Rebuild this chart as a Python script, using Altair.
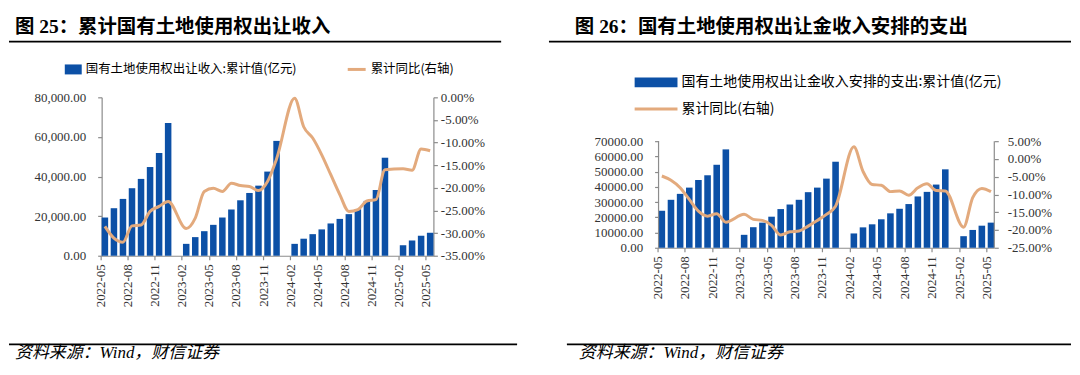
import altair as alt
import pandas as pd

# ---------------- data ----------------
months = (
    [f"2022-{m:02d}" for m in range(5, 13)]
    + [f"2023-{m:02d}" for m in range(1, 13)]
    + [f"2024-{m:02d}" for m in range(1, 13)]
    + [f"2025-{m:02d}" for m in range(1, 6)]
)
tick_months = months[::3]

# 图25: 国有土地使用权出让收入 累计值(亿元) and 累计同比(%)
land_rev = [19300, 24000, 28700, 34100, 38800, 44800, 51900, 67000,
            None, 6000, 9400, 12400, 15600, 19300, 23300, 28000, 31700, 35400, 42500, 58000,
            None, 6000, 8600, 10900, 13300, 16300, 18600, 21000, 23500, 27700, 33200, 49500,
            None, 5300, 7700, 10100, 11600]
land_rev_yoy = [-28.5, -31.1, -32.0, -28.4, -28.2, -25.2, -24.1, -23.0,
                None, -29.0, -26.7, -20.8, -20.1, -20.8, -19.0, -19.5, -19.7, -20.6, -18.6, -13.6,
                None, -0.2, -6.5, -9.0, -12.7, -17.1, -21.5, -25.2, -24.8, -22.9, -22.6, -16.0,
                None, -15.8, -16.1, -11.4, -11.8]

# 图26: 国有土地使用权出让金收入安排的支出 累计值(亿元) and 累计同比(%)
land_exp = [24300, 31500, 35400, 39500, 44500, 47600, 54500, 64600,
            None, 8500, 13500, 16500, 20400, 25400, 28400, 31500, 36500, 39500, 45400, 56500,
            None, 9400, 13400, 15400, 18700, 22600, 25600, 28700, 33700, 36700, 41500, 51500,
            None, 7600, 11700, 14500, 16500]
land_exp_yoy = [-4.8, -6.0, -8.1, -11.4, -14.7, -16.1, -15.4, -17.8,
                None, -15.6, -17.0, -17.3, -18.7, -21.4, -20.5, -20.3, -18.9, -17.3, -15.6, -13.3,
                None, 3.4, -3.5, -7.2, -7.4, -9.2, -9.0, -10.2, -8.1, -7.0, -8.9, -9.0,
                None, -19.2, -10.9, -8.3, -9.2]

title_l = "图 25：累计国有土地使用权出让收入"
title_r = "图 26：国有土地使用权出让金收入安排的支出"
legend_bar_l = "国有土地使用权出让收入:累计值(亿元)"
legend_bar_r = "国有土地使用权出让金收入安排的支出:累计值(亿元)"
legend_line = "累计同比(右轴)"
source = "资料来源：Wind，财信证券"

BLUE = "#0C50A6"
TAN = "#E3AA7D"
SERIF = "Liberation Serif, Noto Sans CJK SC"
CJK = "Noto Sans CJK SC"
AXIS_GRAY = "#8C8C8C"


def one():
    return pd.DataFrame({"a": [0]})


def txt(s, x, y, size, font=SERIF, **kw):
    return alt.Chart(pd.DataFrame({"t": [s]})).mark_text(
        align="left", baseline="middle", font=font, fontSize=size, color="black", **kw
    ).encode(x=alt.value(x), y=alt.value(y), text="t:N")


def hrule(x1, x2, y, color="black", width=1.5):
    return alt.Chart(one()).mark_rule(color=color, strokeWidth=width).encode(
        x=alt.value(x1), x2=alt.value(x2), y=alt.value(y)
    )


def vrule(x, y1, y2, color=AXIS_GRAY, width=1.2):
    return alt.Chart(one()).mark_rule(color=color, strokeWidth=width).encode(
        x=alt.value(x), y=alt.value(y1), y2=alt.value(y2)
    )


def rect(x1, x2, y1, y2):
    return alt.Chart(one()).mark_rect(color=BLUE).encode(
        x=alt.value(x1), x2=alt.value(x2), y=alt.value(y1), y2=alt.value(y2)
    )


def panel(bars, yoy, W, H, ydom, yvals, yfmt, rdom, rvals, lpad_left, lpad_right,
          show_domain, extras):
    df = pd.DataFrame({"month": months, "value": bars, "yoy": yoy})
    xenc = alt.X(
        "month:N",
        sort=months,
        scale=alt.Scale(domain=months, paddingInner=0.28, paddingOuter=0),
        axis=alt.Axis(values=tick_months, labelAngle=270, title=None, labelAlign="right",
                      labelBaseline="middle", labelPadding=4, tickOffset=-4.5),
    )
    bar = alt.Chart(df).mark_bar(color=BLUE).encode(
        x=xenc,
        y=alt.Y("value:Q", scale=alt.Scale(domain=ydom, nice=False),
                axis=alt.Axis(values=yvals, format=yfmt, orient="left", title=None,
                              labelPadding=lpad_left, domain=show_domain)),
    )
    line = alt.Chart(df).transform_filter("isValid(datum.yoy)").mark_line(
        color=TAN, strokeWidth=3, interpolate="monotone"
    ).encode(
        x=xenc,
        y=alt.Y("yoy:Q", scale=alt.Scale(domain=rdom, nice=False),
                axis=alt.Axis(values=rvals, orient="right", title=None,
                              labelPadding=lpad_right, domain=show_domain,
                              labelExpr="(datum.value < 0 ? '-' : '') + format(abs(datum.value), '.2f') + '%'")),
    )
    return alt.layer(bar, line, *extras).resolve_scale(y="independent").properties(width=W, height=H)


# ---- left panel: plot origin at page (101, 96), plot 333 x 159
left_extras = [
    hrule(-93, 417, -88, color="white", width=0.5),
    txt(title_l, -87, -71, 19.5, font=SERIF, fontWeight="bold"),
    hrule(-93, 401, -56, width=1.8),
    rect(-37, -20, -33, -23),
    txt(legend_bar_l, -16, -28, 12.5, font=CJK),
    hrule(247, 265, -28, color=TAN, width=3),
    txt(legend_line, 270, -28, 12.5, font=CJK),
    hrule(-93, 417, 248, width=1.8),
    txt(source, -87, 257, 17, fontStyle="italic"),
]
left = panel(land_rev, land_rev_yoy, 333, 159,
             [0, 80000], list(range(0, 80001, 20000)), ",.2f",
             [-35, 0], list(range(-35, 1, 5)), 12, 3, True, left_extras)

# ---- right panel: plot origin at page (658, 96); the data area is the lower
# 107 px of a 151 px tall view (scales extended upward so both panels share origin)
RH, RDATA = 151, 107
ext = RH / RDATA
right_extras = [
    hrule(-110, 414, -88, color="white", width=0.5),
    txt(title_r, -84, -71, 19.5, font=SERIF, fontWeight="bold"),
    hrule(-110, 414, -56, width=1.8),
    rect(-24, 19, -20, -10),
    txt(legend_bar_r, 23, -15, 14, font=CJK),
    hrule(-24, 19, 11.7, color=TAN, width=3),
    txt(legend_line, 23, 11.7, 14, font=CJK),
    vrule(0, RH - RDATA, RH),
    vrule(337, RH - RDATA, RH),
    hrule(-92, 414, 248, width=1.8),
    txt(source, -80, 257, 17, fontStyle="italic"),
]
right = panel(land_exp, land_exp_yoy, 337, RH,
              [0, 70000 * ext], list(range(0, 70001, 10000)), ".2f",
              [-25, -25 + 30 * ext], list(range(-25, 6, 5)), 12, 9, False, right_extras)

chart = (
    alt.hconcat(left, right, spacing=30)
    .properties(padding=0)
    .configure_view(stroke=None)
    .configure_axis(
        domainColor=AXIS_GRAY, tickColor=AXIS_GRAY, labelColor="#333333",
        labelFont="Liberation Serif", labelFontSize=13, tickSize=4, grid=False,
        domainWidth=1.2, tickWidth=1.2,
    )
)

chart.save("out.html", embed_options={"renderer": "svg", "actions": False})
